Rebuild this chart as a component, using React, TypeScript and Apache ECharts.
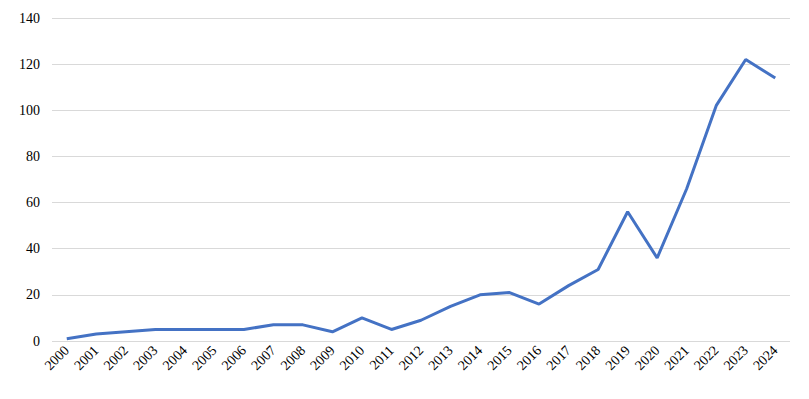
import React, { useEffect, useRef } from "react";
import * as echarts from "echarts";

const years = ["2000","2001","2002","2003","2004","2005","2006","2007","2008","2009","2010","2011","2012","2013","2014","2015","2016","2017","2018","2019","2020","2021","2022","2023","2024"];
const counts = [1, 3, 4, 5, 5, 5, 5, 7, 7, 4, 10, 5, 9, 15, 20, 21, 16, 24, 31, 56, 36, 66, 102, 122, 114];

export default function App() {
  const ref = useRef<HTMLDivElement>(null);
  useEffect(() => {
    const chart = echarts.init(ref.current!, null, { renderer: "svg" });
    const font = "'Liberation Serif', 'Times New Roman', serif";
    chart.setOption({
      animation: false,
      grid: { left: 44, right: 11, top: 10, bottom: 50, containLabel: false },
      xAxis: {
        type: "category",
        data: years,
        boundaryGap: true,
        axisLine: { show: false },
        axisTick: { show: false },
        axisLabel: {
          rotate: 45,
          interval: 0,
          margin: 7,
          fontFamily: font,
          fontSize: 14,
          color: "#000",
        },
      },
      yAxis: {
        type: "value",
        min: 0,
        max: 140,
        interval: 20,
        axisLine: { show: false },
        axisTick: { show: false },
        axisLabel: { fontFamily: font, fontSize: 14, color: "#000", margin: 12 },
        splitLine: { lineStyle: { color: "#d9d9d9", width: 1 } },
      },
      series: [
        {
          type: "line",
          data: counts,
          symbol: "none",
          lineStyle: { color: "#4472C4", width: 3 },
        },
      ],
    });
    return () => chart.dispose();
  }, []);
  return <div ref={ref} style={{ width: 793, height: 383 }} />;
}
